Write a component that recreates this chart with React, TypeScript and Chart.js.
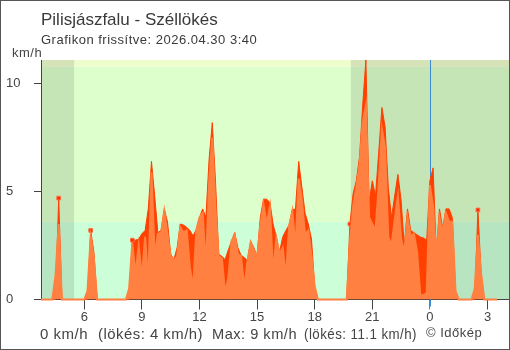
import React, { useEffect, useRef } from 'react';
import { Chart, registerables } from 'chart.js';

Chart.register(...registerables);

// ---- data (10-minute samples, starting 3:40 previous day) ----
const START_HOUR = 3 + 40 / 60;
const STEP_HOURS = 1 / 6;

const GUST: number[] = [
  0, 0, 0, 0, 0, 0, 4.7, 0, 0, 0,
  0, 0, 0, 0, 0, 0, 3.2, 2.2, 0, 0,
  0, 0, 0, 0, 0, 0, 0, 0, 0, 2.75,
  2.75, 2.8, 3.05, 3.2, 4.2, 6.4, 4.8, 3.1, 3.2, 4.2,
  3.6, 2.1, 1.85, 2.4, 3.5, 3.45, 3.35, 3.2, 2.95, 3.25,
  3.8, 4.2, 3.8, 6.5, 8.2, 5.5, 2.1, 2.0, 1.85, 2.3,
  2.7, 3.1, 2.4, 2.05, 1.95, 1.8, 2.7, 2.4, 2.0, 3.8,
  4.65, 4.65, 4.5, 3.5, 2.9, 2.2, 2.9, 3.2, 3.45, 4.15,
  4.2, 6.4, 5.2, 4.0, 3.5, 2.8, 0.6, 0, 0, 0,
  0, 0, 0, 0, 0, 0, 0, 3.5, 4.9, 5.5,
  6.6, 9.0, 11.1, 4.5, 5.5, 4.8, 6.8, 8.9, 8.0, 5.2,
  3.8, 4.8, 5.8, 4.6, 2.5, 4.2, 3.2, 3.1, 3.0, 2.9,
  2.85, 2.75, 5.5, 6.1, 2.2, 4.2, 3.3, 4.2, 4.2, 3.8,
  0.4, 0, 0, 0, 0, 0, 0, 4.15, 1.2, 0,
  0, 0, 0, 0,
];

const WIND: number[] = [
  0, 0, 0, 0, 0, 1.1, 3.5, 0, 0, 0,
  0, 0, 0, 0, 0, 0.4, 2.9, 1.9, 0, 0,
  0, 0, 0, 0, 0, 0, 0, 0, 0.5, 2.6,
  1.2, 2.5, 1.0, 2.9, 0.8, 5.9, 2.0, 3.05, 3.1, 4.1,
  3.0, 2.0, 1.8, 2.0, 3.35, 3.1, 3.2, 1.5, 0.5, 3.2,
  3.8, 4.0, 1.5, 5.4, 7.5, 4.2, 2.0, 1.9, 0.3, 1.0,
  2.7, 3.0, 2.1, 2.0, 0.5, 1.8, 2.65, 2.3, 1.95, 3.4,
  4.4, 3.5, 4.3, 1.2, 2.85, 2.1, 2.4, 1.0, 3.4, 4.1,
  2.4, 5.6, 4.6, 3.0, 3.2, 2.0, 0.6, 0, 0, 0,
  0, 0, 0, 0, 0, 0, 0, 2.6, 4.3, 5.2,
  6.2, 8.2, 9.0, 3.8, 3.5, 3.2, 5.3, 7.9, 7.0, 2.9,
  2.5, 3.7, 4.8, 2.8, 2.2, 3.8, 2.9, 3.05, 2.2, 0.2,
  0.2, 0.3, 5.3, 4.3, 2.0, 3.8, 3.1, 4.0, 3.6, 3.6,
  0.4, 0, 0, 0, 0, 0, 0.5, 3.0, 1.2, 0,
  0, 0, 0, 0,
];

const X_TICKS = [6, 9, 12, 15, 18, 21, 24, 27];
const X_TICK_LABELS = ['6', '9', '12', '15', '18', '21', '0', '3'];
const Y_TICKS = [0, 5, 10];
const X_MIN = 3.745;
const X_MAX = 28.12;
const Y_MAX = 11.1;
const SUNRISE = 5.47;
const SUNSET = 19.88;
const MIDNIGHT = 24;
const BAND_LOW = 3.6;
const BAND_HIGH = 10.8;

const TITLE = 'Pilisjászfalu - Széllökés';
const SUBTITLE = 'Grafikon frissítve: 2026.04.30 3:40';
const UNIT = 'km/h';
const FOOTER_PARTS = ['0 km/h', '(lökés: 4 km/h)', 'Max: 9 km/h', '(lökés: 11.1 km/h)'];
const COPYRIGHT = '© Időkép';

const FONT = '"Liberation Sans", Arial, sans-serif';
const WIND_COLOR = '#ff8040';
const GUST_COLOR = '#ff4000';
const MIDNIGHT_COLOR = '#3a8ad6';
const TEXT_COLOR = '#3a3a3a';

const toPoints = (arr: number[]) =>
  arr.map((v, i) => ({ x: START_HOUR + i * STEP_HOURS, y: v }));

const FOOTER_LAYOUT = [
  { x: 40, w: 48 },
  { x: 98, w: 105 },
  { x: 212, w: 85 },
  { x: 304, w: 113 },
];

const decorPlugin = {
  id: 'decor',
  beforeDraw(chart: any) {
    const { ctx, chartArea, scales } = chart;
    const { left, right, top, bottom } = chartArea;
    const xs = scales.x;
    const ys = scales.y;
    ctx.save();
    ctx.fillStyle = '#ffffff';
    ctx.fillRect(0, 0, chart.width, chart.height);
    const yLow = ys.getPixelForValue(BAND_LOW);
    const yHigh = ys.getPixelForValue(BAND_HIGH);
    ctx.fillStyle = '#ccffd8';
    ctx.fillRect(left, yLow, right - left, bottom - yLow);
    ctx.fillStyle = '#ddffcc';
    ctx.fillRect(left, yHigh, right - left, yLow - yHigh);
    ctx.fillStyle = '#eefdcc';
    ctx.fillRect(left, top, right - left, yHigh - top);
    ctx.fillStyle = 'rgba(0,0,0,0.1)';
    const xr = xs.getPixelForValue(SUNRISE);
    ctx.fillRect(left, top, xr - left, bottom - top);
    const xsn = xs.getPixelForValue(SUNSET);
    ctx.fillRect(xsn, top, right - xsn, bottom - top);
    ctx.restore();
  },
  beforeDatasetsDraw(chart: any) {
    const { ctx, chartArea, scales } = chart;
    const x = Math.round(scales.x.getPixelForValue(MIDNIGHT)) + 0.5;
    ctx.save();
    ctx.strokeStyle = MIDNIGHT_COLOR;
    ctx.lineWidth = 1;
    ctx.beginPath();
    ctx.moveTo(x, chartArea.top);
    ctx.lineTo(x, chartArea.bottom + 7);
    ctx.stroke();
    ctx.restore();
  },
  afterDraw(chart: any) {
    const { ctx } = chart;
    ctx.save();
    ctx.fillStyle = TEXT_COLOR;
    ctx.textBaseline = 'alphabetic';
    ctx.textAlign = 'left';
    ctx.font = `17px ${FONT}`;
    (ctx as any).letterSpacing = '0px';
    ctx.fillText(TITLE, 41, 25);
    ctx.font = `13px ${FONT}`;
    (ctx as any).letterSpacing = '0.5px';
    ctx.fillText(SUBTITLE, 41, 44);
    ctx.fillStyle = '#444';
    ctx.fillText(UNIT, 12, 57);
    ctx.font = `15px ${FONT}`;
    FOOTER_PARTS.forEach((t, i) => {
      const l = FOOTER_LAYOUT[i];
      ctx.fillText(t, l.x, 339, l.w);
    });
    ctx.font = `13px ${FONT}`;
    ctx.fillText(COPYRIGHT, 426, 336.5);
    (ctx as any).letterSpacing = '0px';
    ctx.strokeStyle = '#555';
    ctx.lineWidth = 1;
    ctx.strokeRect(0.5, 0.5, chart.width - 1, chart.height - 1);
    ctx.restore();
  },
};

export default function App() {
  const canvasRef = useRef<HTMLCanvasElement | null>(null);

  useEffect(() => {
    document.body.style.margin = '0';
    const canvas = canvasRef.current;
    if (!canvas) return;
    const markerRadius = (c: any) => {
      const i = c.dataIndex;
      const v = GUST[i];
      return v > 0 && (i === 0 || GUST[i - 1] === 0) ? 2.6 : 0;
    };
    const chart = new Chart(canvas, {
      type: 'line',
      data: {
        datasets: [
          {
            label: 'Szél',
            data: toPoints(WIND),
            fill: 'origin',
            tension: 0,
            backgroundColor: WIND_COLOR,
            borderColor: WIND_COLOR,
            borderWidth: 2,
            pointRadius: 0,
            pointHoverRadius: 0,
            clip: { left: 0, top: 0, right: 0, bottom: 3 } as any,
          },
          {
            label: 'Széllökés',
            data: toPoints(GUST),
            fill: 'origin',
            tension: 0,
            backgroundColor: GUST_COLOR,
            borderColor: GUST_COLOR,
            borderWidth: 1,
            pointStyle: 'rect',
            pointRadius: markerRadius as any,
            pointHoverRadius: 0,
            pointBackgroundColor: '#ff2a00',
            pointBorderColor: '#ff7040',
            pointBorderWidth: 1,
            clip: { left: 0, top: 0, right: 0, bottom: 3 } as any,
          },
        ],
      },
      options: {
        responsive: false,
        devicePixelRatio: 1,
        animation: false,
        events: [],
        layout: { padding: { left: 6, top: 60, right: 1, bottom: 0 } },
        plugins: {
          legend: { display: false },
          tooltip: { enabled: false },
          title: { display: false },
        },
        scales: {
          x: {
            type: 'linear',
            min: X_MIN,
            max: X_MAX,
            afterBuildTicks: (s: any) => {
              s.ticks = X_TICKS.map((v) => ({ value: v }));
            },
            afterFit: (s: any) => {
              s.height = 50.5;
            },
            grid: {
              drawOnChartArea: false,
              drawTicks: true,
              tickLength: 10,
              color: (c: any) => (c.tick && c.tick.value === MIDNIGHT ? MIDNIGHT_COLOR : '#444'),
            },
            border: { display: true, color: '#444', width: 1 },
            ticks: {
              autoSkip: false,
              maxRotation: 0,
              padding: 0,
              color: '#444',
              font: { family: FONT, size: 13 },
              callback: (v: any) => X_TICK_LABELS[X_TICKS.indexOf(Number(v))] ?? '',
            },
          },
          y: {
            type: 'linear',
            min: 0,
            max: Y_MAX,
            afterBuildTicks: (s: any) => {
              s.ticks = Y_TICKS.map((v) => ({ value: v }));
            },
            afterFit: (s: any) => {
              s.width = 35;
            },
            grid: {
              drawOnChartArea: false,
              drawTicks: true,
              tickLength: 7,
              color: '#444',
            },
            border: { display: true, color: '#444', width: 1 },
            ticks: {
              crossAlign: 'far',
              padding: 4,
              color: '#444',
              font: { family: FONT, size: 13 },
              callback: (v: any) => String(v),
            },
          },
        },
      },
      plugins: [decorPlugin as any],
    });
    return () => chart.destroy();
  }, []);

  return <canvas ref={canvasRef} width={510} height={350} style={{ display: 'block' }} />;
}
